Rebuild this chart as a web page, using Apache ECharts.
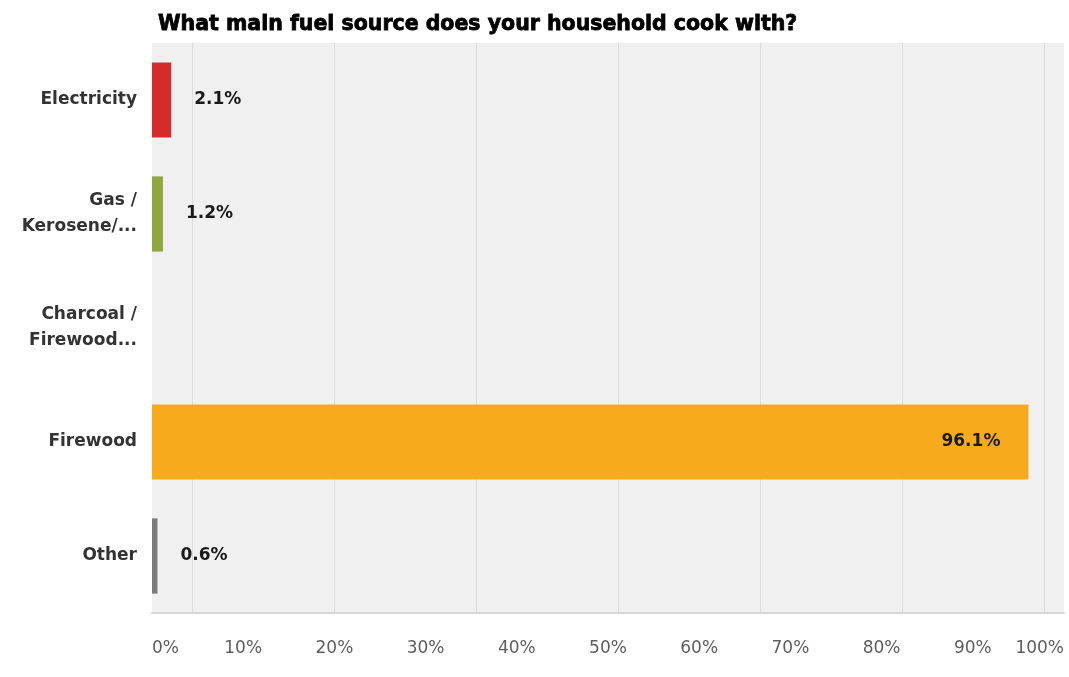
<!DOCTYPE html>
<html>
<head>
<meta charset="utf-8">
<script src="https://cdn.jsdelivr.net/npm/echarts@6/dist/echarts.min.js"></script>
<style>
html,body{margin:0;padding:0;background:#fff;}
#chart{width:1069px;height:677px;}
</style>
</head>
<body>
<div id="chart"></div>
<script>
const titleText = 'What main fuel source does your household cook with?';
const categories = ['Electricity', 'Gas /\nKerosene/...', 'Charcoal /\nFirewood...', 'Firewood', 'Other'];
const values = [2.1, 1.2, 0, 96.1, 0.6];
const xTicks = [0, 10, 20, 30, 40, 50, 60, 70, 80, 90, 100];
const palette = ['#d42b2b', '#8fa83e', '#c9c9c9', '#f7aa1c', '#7c7c7c'];

const chart = echarts.init(document.getElementById('chart'), null, {renderer: 'canvas'});

const seriesData = values.map(function (v, i) {
  const inside = v > 50;
  return {
    value: v,
    itemStyle: {color: palette[i]},
    label: {
      show: v > 0,
      position: inside ? 'insideRight' : 'right',
      distance: inside ? 28 : 23
    }
  };
});

const option = {
  backgroundColor: '#ffffff',
  animation: false,
  title: {
    text: titleText,
    left: 153,
    top: 9,
    textStyle: {
      fontFamily: 'DejaVu Sans',
      fontWeight: 'bold',
      fontSize: 20.5,
      color: '#000',
      textBorderColor: '#000',
      textBorderWidth: 0.8
    }
  },
  grid: [
    {left: 152, right: 5, top: 43, bottom: 64, show: true, backgroundColor: '#f0f0f0', borderWidth: 0, containLabel: false},
    {left: 192, width: 852, top: 43, bottom: 64, show: false, containLabel: false}
  ],
  xAxis: [
    {
      type: 'value',
      gridIndex: 0,
      min: xTicks[0],
      max: xTicks[xTicks.length - 1],
      interval: xTicks[1] - xTicks[0],
      axisLine: {show: true, lineStyle: {color: '#d6d6d6', width: 2}},
      axisTick: {show: false},
      splitLine: {show: false},
      axisLabel: {
        formatter: '{value}%',
        fontFamily: 'DejaVu Sans',
        fontSize: 17,
        color: '#5e5e5e',
        margin: 27,
        alignMinLabel: 'left',
        alignMaxLabel: 'right'
      }
    },
    {
      type: 'value',
      gridIndex: 1,
      min: 0,
      max: 6,
      interval: 1,
      axisLine: {show: false},
      axisTick: {show: false},
      axisLabel: {show: false},
      splitLine: {show: true, lineStyle: {color: '#dcdcdc', width: 1}}
    }
  ],
  yAxis: [
    {
      type: 'category',
      gridIndex: 0,
      data: categories,
      inverse: true,
      axisLine: {show: false},
      axisTick: {show: false},
      splitLine: {show: false},
      axisLabel: {
        fontFamily: 'DejaVu Sans',
        fontWeight: 'bold',
        fontSize: 17,
        color: '#333',
        margin: 15,
        lineHeight: 26,
        align: 'right'
      }
    },
    {
      type: 'value',
      gridIndex: 1,
      show: false,
      min: 0,
      max: 1
    }
  ],
  series: [
    {
      type: 'bar',
      xAxisIndex: 0,
      yAxisIndex: 0,
      data: seriesData,
      barWidth: '66%',
      z: 5,
      label: {
        fontFamily: 'DejaVu Sans',
        fontWeight: 'bold',
        fontSize: 17,
        color: '#1a1a1a',
        formatter: function (p) { return p.value > 0 ? p.value.toFixed(1) + '%' : ''; }
      }
    }
  ]
};

chart.setOption(option);
</script>
</body>
</html>
